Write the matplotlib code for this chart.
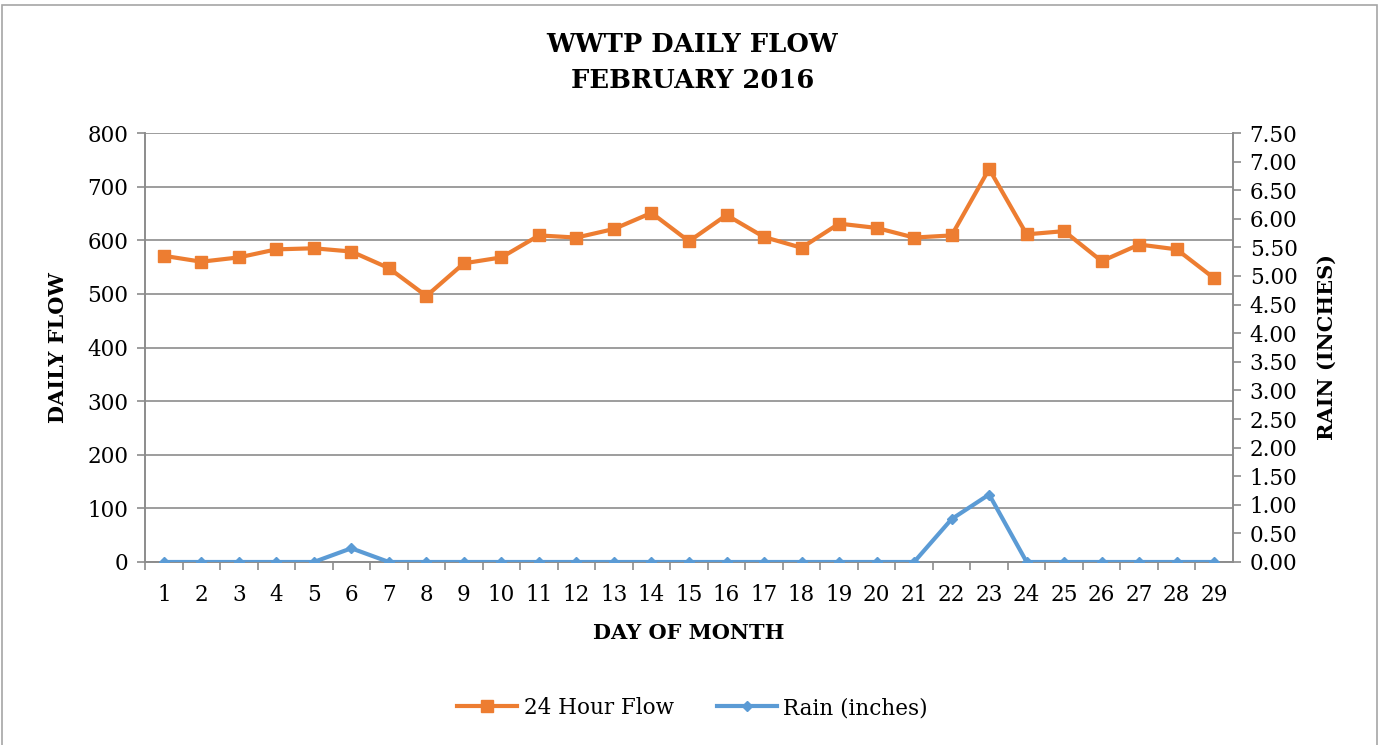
import matplotlib.pyplot as plt
from matplotlib.patches import Rectangle

# data
days = list(range(1, 30))
flow = [571, 560, 568, 583, 585, 579, 548, 496, 557, 568,
        609, 605, 621, 651, 598, 647, 606, 586, 631, 623,
        605, 609, 733, 611, 617, 561, 592, 583, 529]
rain = [0, 0, 0, 0, 0, 0.24, 0, 0, 0, 0,
        0, 0, 0, 0, 0, 0, 0, 0, 0, 0,
        0, 0.75, 1.18, 0, 0, 0, 0, 0, 0]

plt.rcParams['font.family'] = ['DejaVu Serif']
grey = '#8c8c8c'

fig = plt.figure(figsize=(13.85, 7.45), dpi=100)
ax = fig.add_axes([145 / 1385, 1 - 562 / 745, (1233 - 145) / 1385, (562 - 133) / 745])
ax2 = ax.twinx()

ax.plot(days, flow, color='#ED7D31', lw=3, marker='s', ms=8.5, label='24 Hour Flow', zorder=3)
ax2.plot(days, rain, color='#5B9BD5', lw=3, marker='D', ms=5.5, label='Rain (inches)', zorder=3)

ax.set_xlim(0.5, 29.5)
ax.set_ylim(0, 800)
ax2.set_ylim(0, 7.5)
ax.set_yticks(range(0, 801, 100))
ax2.set_yticks([i * 0.5 for i in range(16)])
ax2.set_yticklabels(['%.2f' % (i * 0.5) for i in range(16)])
ax.set_xticks(days)
ax.set_xticks([d + 0.5 for d in range(0, 29)], minor=True)

ax.grid(axis='y', color=grey, lw=1.2)
ax.set_axisbelow(True)
for a in (ax, ax2):
    a.spines['top'].set_visible(False)
    for s in ('left', 'right', 'bottom'):
        a.spines[s].set_color(grey)
        a.spines[s].set_linewidth(1.2)
ax.tick_params(axis='x', which='major', length=0, labelsize=15.5, pad=16)
ax.tick_params(axis='x', which='minor', length=6, color=grey, width=1.2)
ax.tick_params(axis='y', length=6, color=grey, width=1.2, labelsize=15.5, pad=6)
ax2.tick_params(axis='y', length=6, color=grey, width=1.2, labelsize=15.5, pad=6)

ax.set_xlabel('DAY OF MONTH', fontsize=15, fontweight='bold', labelpad=12)
ax.set_ylabel('DAILY FLOW', fontsize=15, fontweight='bold', labelpad=14)
ax2.set_ylabel('RAIN (INCHES)', fontsize=15, fontweight='bold', rotation=90, labelpad=14)

fig.text(0.5, 1 - 45 / 745, 'WWTP DAILY FLOW', ha='center', va='center', fontsize=18.5, fontweight='bold')
fig.text(0.5, 1 - 80 / 745, 'FEBRUARY 2016', ha='center', va='center', fontsize=18.5, fontweight='bold')

h1, l1 = ax.get_legend_handles_labels()
h2, l2 = ax2.get_legend_handles_labels()
fig.legend(h1 + h2, l1 + l2, loc='center', bbox_to_anchor=(0.5, 1 - 708 / 745), ncol=2,
           frameon=False, fontsize=15.5, handlelength=2.8, columnspacing=2.0, handletextpad=0.3)

fig.patches.append(Rectangle((2 / 1385, -0.01), 1375 / 1385, 1 - 5 / 745 + 0.01, transform=fig.transFigure,
                             fill=False, edgecolor='#a6a6a6', lw=1.2))

fig.savefig('out.png', dpi=100)
